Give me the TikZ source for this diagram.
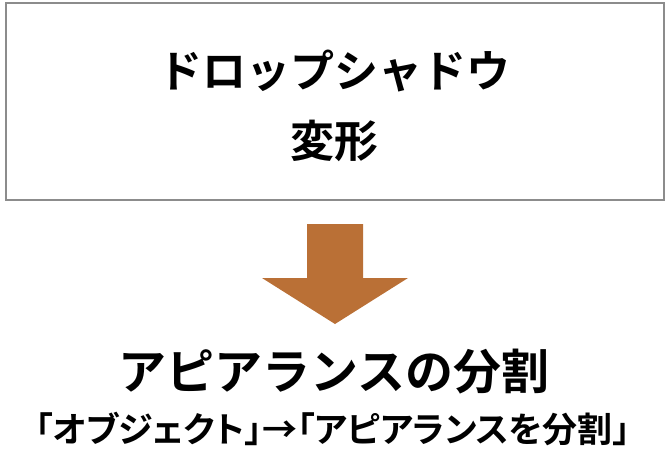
\documentclass[tikz,border=0pt]{standalone}
\usepackage{fontspec}
\newfontfamily\jpfont{Noto Sans CJK JP}[BoldFont={* Bold}]
\newfontfamily\jppfont{Noto Sans CJK JP}[BoldFont={* Bold}, RawFeature=+palt]
\usetikzlibrary{positioning}
\definecolor{framegray}{HTML}{8C8C8C}
\definecolor{arrowbrown}{HTML}{BA7036}

\begin{document}
\begin{tikzpicture}[
  x=1pt, y=-1pt,
  frame/.style={draw=framegray, line width=2pt, minimum width=658pt, minimum height=197pt},
  ttl/.style={font=\jpfont\bfseries\fontsize{44}{50}\selectfont, inner sep=0pt},
  big/.style={font=\jpfont\bfseries\fontsize{48}{52}\selectfont, inner sep=0pt},
  sub/.style={font=\jppfont\bfseries\fontsize{35}{40}\selectfont, inner sep=0pt}]

\useasboundingbox (0,0) rectangle (670,451);

\node[frame] (box) at (334.5,101.5) {};
\node[ttl] (tDrop) at (334,71) {ドロップシャドウ};
\node[ttl] (tHenkei) at (334,141) {変形};

% block arrow below the frame
\fill[arrowbrown] (307,224) -- (363,224) -- (363,278) -- (408,278)
  -- (335,324) -- (262,278) -- (307,278) -- cycle;

\node[big] (tSplit) at (334,372) {アピアランスの分割};
\node[sub] (tPath) at (333,429) {「オブジェクト」→「アピアランスを分割」};

\end{tikzpicture}
\end{document}
